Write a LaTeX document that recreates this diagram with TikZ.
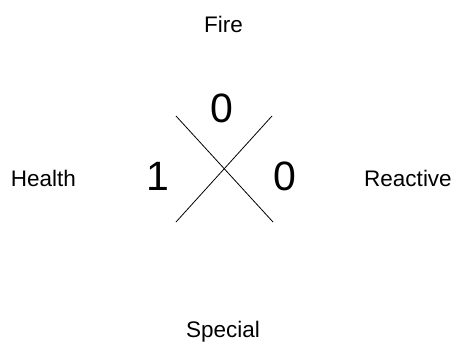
\documentclass[tikz,border=0pt]{standalone}
\usepackage{fontspec}
\setmainfont{Liberation Sans}
\usepackage{tikz}
\usetikzlibrary{positioning}

\begin{document}
\begin{tikzpicture}[
  x=1pt, y=1pt,
  label/.style={anchor=base, inner sep=0pt, font=\fontsize{22.5}{27}\selectfont},
  rating/.style={anchor=base, inner sep=0pt, font=\fontsize{41}{49}\selectfont},
  cross/.style={line width=0.8pt}
]
  \useasboundingbox (0,0) rectangle (455,343);
  % category labels
  \node[label] (fire) at (223.5,310) {Fire};
  \node[label] (health) at (43.5,156) {Health};
  \node[label] (reactive) at (408,156) {Reactive};
  \node[label] (special) at (223,6) {Special};
  % ratings
  \node[rating] (firenum) at (221.5,220) {0};
  \node[rating] (healthnum) at (158,152) {1};
  \node[rating] (reactnum) at (285,152) {0};
  % the cross
  \coordinate (tl) at (176,227);
  \coordinate (tr) at (272,227);
  \coordinate (bl) at (176,121);
  \coordinate (br) at (273,121);
  \draw[cross] (tl) -- (br);
  \draw[cross] (tr) -- (bl);
\end{tikzpicture}
\end{document}
